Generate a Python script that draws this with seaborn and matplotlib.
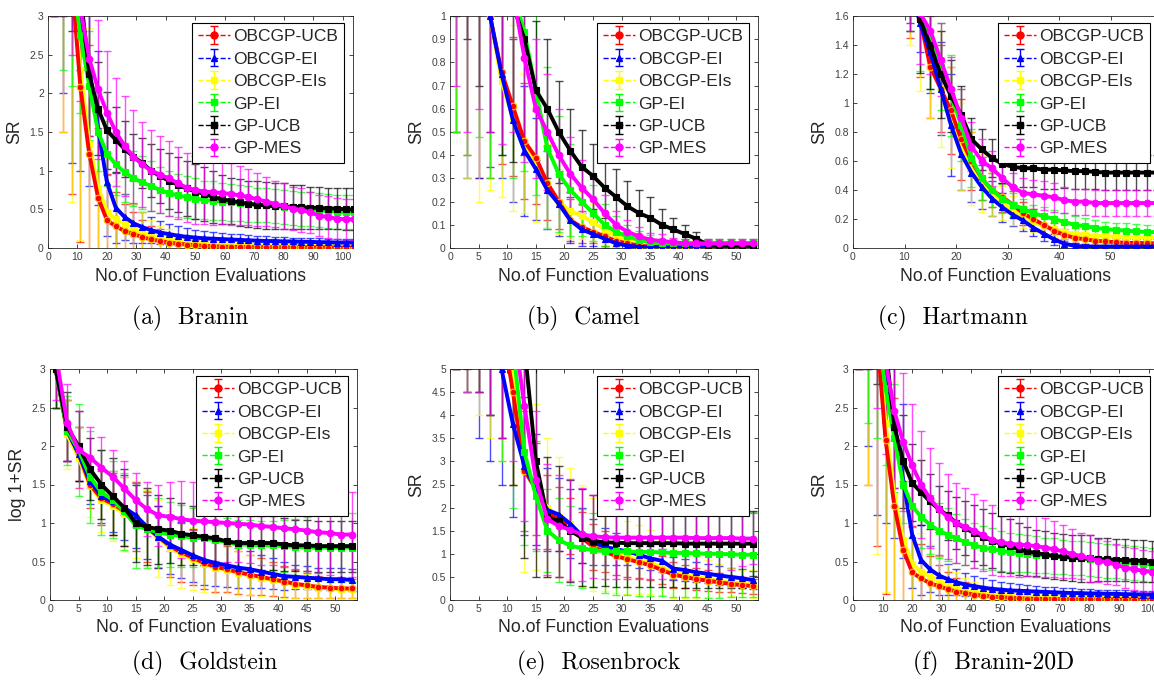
import numpy as np
import pandas as pd
import matplotlib
matplotlib.use("Agg")
import matplotlib.pyplot as plt
import seaborn as sns
from matplotlib.ticker import FuncFormatter, MultipleLocator

# ---------------------------------------------------------------- methods
methods = ["OBCGP-UCB", "OBCGP-EI", "OBCGP-EIs", "GP-EI", "GP-UCB", "GP-MES"]
method_colors = ["#ff0000", "#0000ff", "#ffff00", "#00ff00", "#000000", "#ff00ff"]
method_markers = ["o", "^", "s", "s", "s", "o"]

# ---------------------------------------------------------------- Branin
branin_evals = list(range(2, 105, 3))
branin_obcgp_ucb = [6.0, 4.5, 3.5, 2.08, 1.22, 0.65, 0.36, 0.28, 0.22, 0.18, 0.14, 0.11, 0.09, 0.07, 0.055, 0.045, 0.035, 0.028, 0.022, 0.018, 0.015, 0.013, 0.011, 0.01, 0.009, 0.008, 0.008, 0.007, 0.007, 0.006, 0.006, 0.006, 0.005, 0.005, 0.005]
branin_obcgp_ucb_sd = [3.0, 3.0, 2.8, 2.0, 1.4, 0.9, 0.6, 0.45, 0.35, 0.28, 0.22, 0.18, 0.15, 0.12, 0.1, 0.08, 0.07, 0.06, 0.05, 0.045, 0.04, 0.035, 0.03, 0.03, 0.025, 0.025, 0.02, 0.02, 0.02, 0.02, 0.02, 0.015, 0.015, 0.015, 0.015]
branin_obcgp_ei = [6.0, 4.5, 3.6, 3.0, 2.3, 1.55, 0.85, 0.52, 0.4, 0.32, 0.27, 0.23, 0.2, 0.18, 0.16, 0.145, 0.135, 0.125, 0.12, 0.115, 0.11, 0.105, 0.1, 0.095, 0.09, 0.09, 0.085, 0.085, 0.08, 0.08, 0.075, 0.075, 0.07, 0.07, 0.07]
branin_obcgp_ei_sd = [3.0, 2.5, 2.5, 2.0, 1.5, 1.0, 0.7, 0.45, 0.3, 0.25, 0.2, 0.17, 0.15, 0.13, 0.12, 0.11, 0.1, 0.09, 0.085, 0.08, 0.075, 0.07, 0.065, 0.06, 0.06, 0.055, 0.055, 0.05, 0.05, 0.05, 0.05, 0.045, 0.045, 0.045, 0.045]
branin_obcgp_eis = [6.0, 4.5, 3.6, 2.3, 1.35, 0.78, 0.47, 0.37, 0.31, 0.25, 0.2, 0.16, 0.13, 0.11, 0.09, 0.075, 0.065, 0.058, 0.052, 0.048, 0.045, 0.042, 0.04, 0.038, 0.036, 0.034, 0.033, 0.032, 0.031, 0.03, 0.03, 0.029, 0.028, 0.028, 0.028]
branin_obcgp_eis_sd = [3.0, 3.0, 3.0, 2.2, 1.5, 1.0, 0.7, 0.5, 0.4, 0.32, 0.26, 0.2, 0.16, 0.13, 0.1, 0.08, 0.07, 0.06, 0.05, 0.045, 0.04, 0.04, 0.035, 0.035, 0.03, 0.03, 0.03, 0.03, 0.03, 0.03, 0.03, 0.03, 0.03, 0.03, 0.03]
branin_gp_ei = [6.0, 4.5, 3.6, 2.75, 2.1, 1.5, 1.22, 1.08, 0.98, 0.9, 0.85, 0.8, 0.75, 0.71, 0.68, 0.66, 0.64, 0.62, 0.61, 0.6, 0.59, 0.58, 0.57, 0.56, 0.55, 0.54, 0.53, 0.52, 0.51, 0.5, 0.49, 0.48, 0.47, 0.46, 0.46]
branin_gp_ei_sd = [3.0, 2.2, 1.5, 1.0, 0.7, 0.5, 0.42, 0.4, 0.38, 0.36, 0.34, 0.32, 0.3, 0.29, 0.28, 0.27, 0.26, 0.25, 0.25, 0.24, 0.24, 0.23, 0.23, 0.22, 0.22, 0.22, 0.22, 0.22, 0.22, 0.22, 0.22, 0.22, 0.22, 0.22, 0.22]
branin_gp_ucb = [6.0, 5.0, 4.0, 3.3, 2.25, 1.8, 1.52, 1.4, 1.28, 1.18, 1.1, 1.0, 0.93, 0.87, 0.82, 0.77, 0.73, 0.7, 0.66, 0.63, 0.61, 0.59, 0.57, 0.56, 0.55, 0.54, 0.54, 0.53, 0.53, 0.52, 0.52, 0.51, 0.51, 0.5, 0.5]
branin_gp_ucb_sd = [3.0, 2.0, 1.2, 1.0, 0.8, 0.6, 0.5, 0.42, 0.36, 0.3, 0.32, 0.34, 0.35, 0.36, 0.36, 0.36, 0.36, 0.35, 0.34, 0.32, 0.3, 0.3, 0.3, 0.3, 0.3, 0.3, 0.3, 0.28, 0.28, 0.27, 0.27, 0.27, 0.27, 0.27, 0.27]
branin_gp_mes = [6.0, 5.0, 4.0, 3.1, 2.45, 2.05, 1.75, 1.5, 1.32, 1.18, 1.08, 1.0, 0.95, 0.9, 0.84, 0.78, 0.75, 0.73, 0.72, 0.71, 0.7, 0.68, 0.66, 0.63, 0.6, 0.57, 0.54, 0.51, 0.49, 0.46, 0.42, 0.4, 0.38, 0.37, 0.37]
branin_gp_mes_sd = [3.0, 2.0, 1.5, 1.2, 1.0, 0.9, 0.8, 0.7, 0.65, 0.6, 0.55, 0.52, 0.5, 0.48, 0.46, 0.45, 0.44, 0.42, 0.42, 0.4, 0.4, 0.38, 0.36, 0.34, 0.32, 0.3, 0.3, 0.28, 0.28, 0.27, 0.27, 0.27, 0.27, 0.27, 0.27]

# ---------------------------------------------------------------- Camel
camel_evals = list(range(1, 54, 2))
camel_obcgp_ucb = [2.0, 1.6, 1.2, 1.0, 0.76, 0.61, 0.46, 0.39, 0.28, 0.2, 0.12, 0.09, 0.07, 0.05, 0.03, 0.02, 0.01, 0.006, 0.004, 0.003, 0.003, 0.003, 0.003, 0.003, 0.003, 0.003, 0.003]
camel_obcgp_ucb_sd = [1.5, 1.2, 0.9, 0.7, 0.4, 0.3, 0.25, 0.2, 0.16, 0.12, 0.09, 0.07, 0.05, 0.04, 0.03, 0.02, 0.015, 0.01, 0.01, 0.01, 0.01, 0.01, 0.01, 0.01, 0.01, 0.01, 0.01]
camel_obcgp_ei = [2.0, 1.5, 1.2, 1.0, 0.75, 0.55, 0.42, 0.34, 0.25, 0.19, 0.12, 0.08, 0.06, 0.04, 0.02, 0.01, 0.005, 0.003, 0.003, 0.003, 0.003, 0.003, 0.003, 0.003, 0.003, 0.003, 0.003]
camel_obcgp_ei_sd = [1.5, 1.2, 0.9, 0.65, 0.45, 0.35, 0.28, 0.22, 0.17, 0.14, 0.1, 0.07, 0.05, 0.04, 0.03, 0.02, 0.01, 0.01, 0.01, 0.01, 0.01, 0.01, 0.01, 0.01, 0.01, 0.01, 0.01]
camel_obcgp_eis = [2.0, 1.6, 1.2, 1.0, 0.72, 0.56, 0.45, 0.36, 0.27, 0.2, 0.16, 0.14, 0.11, 0.08, 0.05, 0.035, 0.03, 0.025, 0.02, 0.018, 0.015, 0.013, 0.012, 0.011, 0.01, 0.01, 0.01]
camel_obcgp_eis_sd = [1.5, 1.3, 1.0, 0.75, 0.5, 0.4, 0.3, 0.25, 0.18, 0.14, 0.12, 0.1, 0.08, 0.06, 0.04, 0.03, 0.025, 0.02, 0.02, 0.02, 0.02, 0.02, 0.02, 0.02, 0.02, 0.02, 0.02]
camel_gp_ei = [2.0, 1.8, 1.2, 1.2, 1.25, 1.1, 0.93, 0.68, 0.43, 0.32, 0.25, 0.2, 0.15, 0.1, 0.07, 0.05, 0.035, 0.025, 0.02, 0.02, 0.02, 0.02, 0.02, 0.02, 0.02, 0.02, 0.02]
camel_gp_ei_sd = [1.5, 1.4, 0.72, 0.9, 0.85, 0.8, 0.6, 0.45, 0.35, 0.25, 0.2, 0.15, 0.12, 0.09, 0.07, 0.05, 0.04, 0.03, 0.02, 0.02, 0.02, 0.02, 0.02, 0.02, 0.02, 0.02, 0.02]
camel_gp_ucb = [2.5, 2.2, 1.8, 1.5, 1.3, 1.05, 0.9, 0.68, 0.6, 0.5, 0.42, 0.35, 0.31, 0.26, 0.22, 0.18, 0.15, 0.13, 0.1, 0.08, 0.06, 0.04, 0.015, 0.012, 0.012, 0.012, 0.012]
camel_gp_ucb_sd = [1.5, 1.3, 1.1, 1.0, 0.9, 0.68, 0.5, 0.3, 0.3, 0.22, 0.18, 0.16, 0.14, 0.13, 0.12, 0.11, 0.1, 0.09, 0.07, 0.05, 0.04, 0.03, 0.02, 0.02, 0.02, 0.02, 0.02]
camel_gp_mes = [2.5, 2.0, 1.6, 1.4, 1.25, 1.1, 0.82, 0.6, 0.5, 0.4, 0.32, 0.26, 0.21, 0.15, 0.1, 0.07, 0.05, 0.035, 0.03, 0.025, 0.02, 0.02, 0.02, 0.02, 0.02, 0.02, 0.02]
camel_gp_mes_sd = [1.8, 1.5, 1.0, 0.9, 0.8, 0.6, 0.45, 0.3, 0.25, 0.2, 0.16, 0.12, 0.1, 0.08, 0.06, 0.05, 0.04, 0.03, 0.03, 0.02, 0.02, 0.02, 0.02, 0.02, 0.02, 0.02, 0.02]

# ---------------------------------------------------------------- Hartmann
hart_evals = list(range(1, 60, 2))
hart_obcgp_ucb = [3.0, 2.8, 2.6, 2.4, 2.2, 1.9, 1.58, 1.25, 1.1, 0.95, 0.75, 0.6, 0.48, 0.4, 0.35, 0.3, 0.24, 0.2, 0.16, 0.12, 0.09, 0.07, 0.06, 0.05, 0.045, 0.04, 0.035, 0.035, 0.033, 0.032]
hart_obcgp_ucb_sd = [0.5, 0.5, 0.5, 0.5, 0.5, 0.45, 0.4, 0.35, 0.3, 0.3, 0.28, 0.2, 0.15, 0.12, 0.1, 0.09, 0.08, 0.07, 0.06, 0.05, 0.04, 0.035, 0.03, 0.03, 0.03, 0.03, 0.03, 0.03, 0.03, 0.03]
hart_obcgp_ei = [3.0, 2.8, 2.6, 2.4, 2.2, 1.85, 1.55, 1.35, 1.1, 0.85, 0.65, 0.52, 0.42, 0.34, 0.28, 0.23, 0.19, 0.14, 0.1, 0.06, 0.03, 0.015, 0.01, 0.01, 0.01, 0.01, 0.01, 0.01, 0.01, 0.01]
hart_obcgp_ei_sd = [0.5, 0.5, 0.5, 0.5, 0.45, 0.3, 0.2, 0.28, 0.32, 0.35, 0.25, 0.2, 0.15, 0.12, 0.1, 0.08, 0.07, 0.06, 0.05, 0.04, 0.03, 0.02, 0.015, 0.01, 0.01, 0.01, 0.01, 0.01, 0.01, 0.01]
hart_obcgp_eis = [3.0, 2.8, 2.6, 2.4, 2.2, 1.9, 1.58, 1.3, 1.1, 0.9, 0.7, 0.55, 0.45, 0.37, 0.31, 0.26, 0.22, 0.18, 0.15, 0.13, 0.11, 0.1, 0.09, 0.085, 0.08, 0.08, 0.078, 0.076, 0.075, 0.075]
hart_obcgp_eis_sd = [0.5, 0.5, 0.5, 0.5, 0.5, 0.5, 0.5, 0.4, 0.4, 0.35, 0.3, 0.25, 0.2, 0.15, 0.12, 0.1, 0.08, 0.07, 0.06, 0.05, 0.05, 0.04, 0.04, 0.04, 0.04, 0.04, 0.04, 0.04, 0.04, 0.04]
hart_gp_ei = [3.0, 2.8, 2.6, 2.4, 2.2, 1.95, 1.62, 1.45, 1.25, 1.05, 0.85, 0.62, 0.48, 0.4, 0.34, 0.3, 0.27, 0.24, 0.22, 0.2, 0.18, 0.16, 0.15, 0.14, 0.13, 0.125, 0.12, 0.115, 0.11, 0.11]
hart_gp_ei_sd = [0.5, 0.5, 0.5, 0.5, 0.5, 0.45, 0.4, 0.35, 0.3, 0.28, 0.25, 0.2, 0.15, 0.12, 0.1, 0.08, 0.07, 0.06, 0.06, 0.06, 0.06, 0.06, 0.06, 0.055, 0.05, 0.05, 0.05, 0.05, 0.05, 0.05]
hart_gp_ucb = [3.0, 2.8, 2.6, 2.4, 2.2, 1.9, 1.58, 1.4, 1.2, 1.05, 0.92, 0.75, 0.68, 0.62, 0.58, 0.56, 0.55, 0.55, 0.54, 0.54, 0.535, 0.53, 0.53, 0.525, 0.52, 0.52, 0.52, 0.52, 0.52, 0.52]
hart_gp_ucb_sd = [0.5, 0.5, 0.5, 0.5, 0.5, 0.4, 0.37, 0.3, 0.3, 0.25, 0.2, 0.15, 0.14, 0.13, 0.13, 0.13, 0.13, 0.13, 0.13, 0.13, 0.12, 0.12, 0.12, 0.12, 0.12, 0.12, 0.12, 0.12, 0.12, 0.12]
hart_gp_mes = [3.0, 2.8, 2.6, 2.4, 2.2, 1.95, 1.62, 1.5, 1.3, 1.1, 0.9, 0.7, 0.6, 0.55, 0.48, 0.42, 0.38, 0.37, 0.36, 0.35, 0.33, 0.32, 0.32, 0.31, 0.31, 0.31, 0.31, 0.31, 0.31, 0.31]
hart_gp_mes_sd = [0.5, 0.5, 0.5, 0.5, 0.5, 0.45, 0.35, 0.3, 0.25, 0.22, 0.2, 0.17, 0.15, 0.12, 0.1, 0.1, 0.1, 0.1, 0.1, 0.1, 0.09, 0.09, 0.09, 0.09, 0.09, 0.09, 0.09, 0.09, 0.09, 0.09]

# ---------------------------------------------------------------- Goldstein (log 1+SR)
gold_evals = list(range(1, 54, 2))
gold_obcgp_ucb = [3.0, 2.2, 1.9, 1.5, 1.32, 1.25, 1.15, 1.08, 0.95, 0.82, 0.7, 0.62, 0.55, 0.48, 0.43, 0.4, 0.36, 0.33, 0.3, 0.27, 0.24, 0.21, 0.19, 0.17, 0.16, 0.15, 0.15]
gold_obcgp_ucb_sd = [0.5, 0.4, 0.35, 0.3, 0.35, 0.4, 0.45, 0.45, 0.45, 0.4, 0.4, 0.38, 0.36, 0.34, 0.32, 0.3, 0.28, 0.26, 0.24, 0.22, 0.2, 0.18, 0.16, 0.14, 0.13, 0.12, 0.12]
gold_obcgp_ei = [3.0, 2.2, 1.9, 1.55, 1.35, 1.28, 1.2, 1.1, 0.95, 0.82, 0.72, 0.65, 0.58, 0.52, 0.48, 0.45, 0.42, 0.4, 0.37, 0.34, 0.31, 0.3, 0.29, 0.28, 0.27, 0.27, 0.26]
gold_obcgp_ei_sd = [0.5, 0.4, 0.35, 0.3, 0.35, 0.4, 0.42, 0.42, 0.42, 0.4, 0.38, 0.36, 0.34, 0.32, 0.3, 0.28, 0.26, 0.24, 0.22, 0.2, 0.18, 0.16, 0.15, 0.14, 0.14, 0.14, 0.14]
gold_obcgp_eis = [3.0, 2.15, 1.85, 1.48, 1.3, 1.22, 1.12, 1.05, 0.93, 0.8, 0.68, 0.6, 0.53, 0.47, 0.42, 0.39, 0.35, 0.32, 0.29, 0.26, 0.23, 0.2, 0.18, 0.16, 0.15, 0.14, 0.14]
gold_obcgp_eis_sd = [0.5, 0.45, 0.4, 0.4, 0.42, 0.45, 0.48, 0.5, 0.5, 0.5, 0.48, 0.45, 0.4, 0.36, 0.33, 0.3, 0.28, 0.26, 0.24, 0.22, 0.2, 0.18, 0.16, 0.14, 0.13, 0.12, 0.12]
gold_gp_ei = [3.0, 2.2, 1.95, 1.6, 1.4, 1.3, 1.15, 0.97, 0.92, 0.88, 0.85, 0.83, 0.81, 0.8, 0.78, 0.75, 0.72, 0.72, 0.71, 0.71, 0.7, 0.69, 0.68, 0.68, 0.68, 0.68, 0.68]
gold_gp_ei_sd = [0.5, 0.45, 0.6, 0.6, 0.55, 0.5, 0.5, 0.55, 0.5, 0.45, 0.42, 0.4, 0.38, 0.36, 0.34, 0.32, 0.32, 0.32, 0.32, 0.32, 0.34, 0.36, 0.4, 0.42, 0.44, 0.45, 0.45]
gold_gp_ucb = [3.0, 2.25, 2.0, 1.7, 1.5, 1.35, 1.2, 1.0, 0.95, 0.92, 0.9, 0.86, 0.84, 0.82, 0.8, 0.76, 0.74, 0.74, 0.74, 0.74, 0.72, 0.71, 0.71, 0.7, 0.7, 0.7, 0.7]
gold_gp_ucb_sd = [0.5, 0.45, 0.45, 0.4, 0.45, 0.5, 0.5, 0.5, 0.5, 0.45, 0.42, 0.4, 0.38, 0.36, 0.36, 0.36, 0.35, 0.35, 0.35, 0.35, 0.34, 0.33, 0.33, 0.33, 0.33, 0.33, 0.33]
gold_gp_mes = [3.2, 2.3, 1.95, 1.85, 1.72, 1.6, 1.45, 1.3, 1.18, 1.1, 1.08, 1.05, 1.03, 1.02, 1.01, 1.0, 0.99, 0.98, 0.96, 0.95, 0.93, 0.92, 0.9, 0.88, 0.87, 0.85, 0.85]
gold_gp_mes_sd = [0.6, 0.5, 0.5, 0.4, 0.4, 0.35, 0.35, 0.35, 0.35, 0.4, 0.45, 0.5, 0.5, 0.5, 0.5, 0.5, 0.5, 0.5, 0.5, 0.5, 0.5, 0.52, 0.52, 0.53, 0.54, 0.55, 0.55]

# ---------------------------------------------------------------- Rosenbrock
rosen_evals = list(range(1, 54, 2))
rosen_obcgp_ucb = [9.0, 8.5, 8.0, 7.0, 6.0, 4.5, 2.8, 2.4, 1.9, 1.75, 1.6, 1.35, 1.15, 1.05, 0.95, 0.88, 0.82, 0.75, 0.65, 0.55, 0.5, 0.45, 0.42, 0.38, 0.35, 0.32, 0.3]
rosen_obcgp_ucb_sd = [4.0, 4.0, 3.5, 3.0, 2.5, 2.0, 1.3, 1.0, 0.8, 0.7, 0.6, 0.55, 0.5, 0.45, 0.4, 0.38, 0.35, 0.32, 0.3, 0.28, 0.25, 0.24, 0.22, 0.2, 0.18, 0.17, 0.16]
rosen_obcgp_ei = [9.0, 8.0, 7.0, 6.0, 5.0, 3.8, 2.9, 2.4, 1.95, 1.85, 1.65, 1.4, 1.25, 1.15, 1.1, 1.05, 0.98, 0.9, 0.85, 0.68, 0.65, 0.6, 0.57, 0.53, 0.5, 0.47, 0.43]
rosen_obcgp_ei_sd = [4.0, 3.5, 3.5, 3.0, 2.5, 2.0, 1.5, 1.2, 0.9, 0.8, 0.75, 0.6, 0.5, 0.4, 0.35, 0.3, 0.28, 0.26, 0.25, 0.24, 0.23, 0.22, 0.21, 0.2, 0.2, 0.2, 0.2]
rosen_obcgp_eis = [9.0, 8.5, 8.0, 7.0, 6.0, 5.0, 2.8, 2.45, 2.0, 1.8, 1.65, 1.4, 1.2, 1.1, 1.0, 0.92, 0.88, 0.82, 0.7, 0.6, 0.55, 0.5, 0.46, 0.42, 0.39, 0.36, 0.34]
rosen_obcgp_eis_sd = [4.0, 4.0, 4.0, 3.5, 3.0, 2.5, 2.2, 1.8, 1.5, 1.3, 1.2, 1.1, 1.0, 0.9, 0.85, 0.8, 0.75, 0.7, 0.6, 0.55, 0.5, 0.45, 0.4, 0.35, 0.3, 0.3, 0.3]
rosen_gp_ei = [9.0, 8.5, 8.0, 7.0, 6.0, 5.5, 3.2, 2.25, 1.5, 1.3, 1.18, 1.12, 1.08, 1.06, 1.05, 1.05, 1.04, 1.04, 1.03, 1.02, 1.02, 1.01, 1.0, 1.0, 0.99, 0.98, 0.98]
rosen_gp_ei_sd = [4.0, 4.0, 3.5, 3.0, 3.0, 3.5, 2.0, 1.2, 0.9, 0.9, 0.85, 0.85, 0.8, 0.9, 0.95, 0.95, 0.95, 0.95, 0.95, 0.95, 0.95, 0.95, 0.95, 0.95, 0.93, 0.92, 0.92]
rosen_gp_ucb = [9.0, 9.0, 8.5, 8.0, 7.5, 7.0, 5.5, 3.0, 1.8, 1.7, 1.5, 1.35, 1.28, 1.25, 1.24, 1.23, 1.23, 1.23, 1.23, 1.23, 1.22, 1.22, 1.22, 1.22, 1.22, 1.22, 1.22]
rosen_gp_ucb_sd = [4.0, 4.0, 4.0, 4.0, 4.0, 4.5, 4.6, 2.5, 1.3, 1.2, 1.1, 1.05, 1.0, 0.95, 0.95, 0.95, 0.95, 0.95, 0.95, 0.95, 0.95, 0.95, 0.95, 0.95, 0.95, 0.95, 0.7]
rosen_gp_mes = [9.0, 8.5, 8.0, 7.0, 6.5, 6.0, 4.2, 2.6, 1.75, 1.6, 1.52, 1.42, 1.38, 1.36, 1.35, 1.35, 1.35, 1.35, 1.35, 1.35, 1.35, 1.34, 1.34, 1.34, 1.34, 1.33, 1.33]
rosen_gp_mes_sd = [4.0, 4.0, 3.5, 3.0, 3.0, 3.0, 2.5, 1.5, 1.2, 1.1, 1.1, 1.0, 0.9, 0.9, 0.9, 0.9, 0.9, 0.9, 0.9, 0.9, 0.9, 0.9, 0.8, 0.75, 0.7, 0.6, 0.55]

# ---------------------------------------------------------------- Branin-20D
b20_evals = branin_evals
b20_obcgp_ucb, b20_obcgp_ucb_sd = branin_obcgp_ucb, branin_obcgp_ucb_sd
b20_obcgp_ei, b20_obcgp_ei_sd = branin_obcgp_ei, branin_obcgp_ei_sd
b20_obcgp_eis, b20_obcgp_eis_sd = branin_obcgp_eis, branin_obcgp_eis_sd
b20_gp_ei, b20_gp_ei_sd = branin_gp_ei, branin_gp_ei_sd
b20_gp_ucb, b20_gp_ucb_sd = branin_gp_ucb, branin_gp_ucb_sd
b20_gp_mes, b20_gp_mes_sd = branin_gp_mes, branin_gp_mes_sd


def panel_table(evals, series, errs):
    frames = []
    for name, m, s in zip(methods, series, errs):
        frames.append(pd.DataFrame({"evals": evals, "value": m, "sd": s, "method": name}))
    return pd.concat(frames, ignore_index=True)


panels = [
    dict(df=panel_table(branin_evals,
                        [branin_obcgp_ucb, branin_obcgp_ei, branin_obcgp_eis, branin_gp_ei, branin_gp_ucb, branin_gp_mes],
                        [branin_obcgp_ucb_sd, branin_obcgp_ei_sd, branin_obcgp_eis_sd, branin_gp_ei_sd, branin_gp_ucb_sd, branin_gp_mes_sd]),
         rect=(48, 16, 305, 232), xlim=103.5, ylim=3, xstep=10, ystep=0.5,
         ylabel="SR", xlabel="No.of Function Evaluations", caption="(a)  Branin", cap_x=132, cap_y=318),
    dict(df=panel_table(camel_evals,
                        [camel_obcgp_ucb, camel_obcgp_ei, camel_obcgp_eis, camel_gp_ei, camel_gp_ucb, camel_gp_mes],
                        [camel_obcgp_ucb_sd, camel_obcgp_ei_sd, camel_obcgp_eis_sd, camel_gp_ei_sd, camel_gp_ucb_sd, camel_gp_mes_sd]),
         rect=(450, 16, 308, 232), xlim=53.8, ylim=1, xstep=5, ystep=0.1,
         ylabel="SR", xlabel="No.of Function Evaluations", caption="(b)  Camel", cap_x=527, cap_y=318),
    dict(df=panel_table(hart_evals,
                        [hart_obcgp_ucb, hart_obcgp_ei, hart_obcgp_eis, hart_gp_ei, hart_gp_ucb, hart_gp_mes],
                        [hart_obcgp_ucb_sd, hart_obcgp_ei_sd, hart_obcgp_eis_sd, hart_gp_ei_sd, hart_gp_ucb_sd, hart_gp_mes_sd]),
         rect=(853, 16, 306, 232), xlim=59.4, ylim=1.6, xstep=10, ystep=0.2,
         ylabel="SR", xlabel="No.of Function Evaluations", caption="(c)  Hartmann", cap_x=878, cap_y=318),
    dict(df=panel_table(gold_evals,
                        [gold_obcgp_ucb, gold_obcgp_ei, gold_obcgp_eis, gold_gp_ei, gold_gp_ucb, gold_gp_mes],
                        [gold_obcgp_ucb_sd, gold_obcgp_ei_sd, gold_obcgp_eis_sd, gold_gp_ei_sd, gold_gp_ucb_sd, gold_gp_mes_sd]),
         rect=(50, 369, 307, 231), xlim=53.8, ylim=3, xstep=5, ystep=0.5,
         ylabel="log 1+SR", xlabel="No. of Function Evaluations", caption="(d)  Goldstein", cap_x=132, cap_y=663),
    dict(df=panel_table(rosen_evals,
                        [rosen_obcgp_ucb, rosen_obcgp_ei, rosen_obcgp_eis, rosen_gp_ei, rosen_gp_ucb, rosen_gp_mes],
                        [rosen_obcgp_ucb_sd, rosen_obcgp_ei_sd, rosen_obcgp_eis_sd, rosen_gp_ei_sd, rosen_gp_ucb_sd, rosen_gp_mes_sd]),
         rect=(450, 369, 308, 231), xlim=53.8, ylim=5, xstep=5, ystep=0.5,
         ylabel="SR", xlabel="No.of Function Evaluations", caption="(e)  Rosenbrock", cap_x=517, cap_y=663),
    dict(df=panel_table(b20_evals,
                        [b20_obcgp_ucb, b20_obcgp_ei, b20_obcgp_eis, b20_gp_ei, b20_gp_ucb, b20_gp_mes],
                        [b20_obcgp_ucb_sd, b20_obcgp_ei_sd, b20_obcgp_eis_sd, b20_gp_ei_sd, b20_gp_ucb_sd, b20_gp_mes_sd]),
         rect=(853, 369, 306, 231), xlim=103.5, ylim=3, xstep=10, ystep=0.5,
         ylabel="SR", xlabel="No.of Function Evaluations", caption="(f)  Branin-20D", cap_x=913, cap_y=663),
]

# ---------------------------------------------------------------- style
sns.set_theme(style="ticks")
plt.rcParams["font.family"] = ["Liberation Sans", "DejaVu Sans"]

W, H = 1154, 681
fig = plt.figure(figsize=(W / 100, H / 100), dpi=100)
fig.patch.set_facecolor("white")

draw_order = ["OBCGP-EIs", "OBCGP-UCB", "OBCGP-EI", "GP-EI", "GP-UCB", "GP-MES"]
fmt = FuncFormatter(lambda v, _: f"{v:g}")

for p in panels:
    left, top, w, h = p["rect"]
    ax = fig.add_axes([left / W, (H - top - h) / H, w / W, h / H])
    df = p["df"]

    # error bars first, semi transparent so the overlaps blend
    for name in methods:
        c = method_colors[methods.index(name)]
        sub = df[df["method"] == name]
        ax.errorbar(sub["evals"], sub["value"], yerr=sub["sd"], fmt="none",
                    ecolor=c, elinewidth=1.0, capsize=3, capthick=1.0,
                    alpha=0.7, zorder=1)

    # mean curves
    for k, name in enumerate(draw_order):
        i = methods.index(name)
        c = method_colors[i]
        sub = df[df["method"] == name]
        mec = "#ffc800" if name == "OBCGP-UCB" else c
        sns.lineplot(data=sub, x="evals", y="value", ax=ax, color=c,
                     estimator=None, errorbar=None, sort=True,
                     linewidth=2.8, marker=method_markers[i], markersize=4.8,
                     markerfacecolor=c, markeredgecolor=mec, markeredgewidth=0.8,
                     zorder=2 + k, legend=False)

    ax.set_xlim(0, p["xlim"])
    ax.set_ylim(0, p["ylim"])
    ax.xaxis.set_major_locator(MultipleLocator(p["xstep"]))
    ax.yaxis.set_major_locator(MultipleLocator(p["ystep"]))
    ax.xaxis.set_major_formatter(fmt)
    ax.yaxis.set_major_formatter(fmt)
    ax.tick_params(direction="in", length=3, width=0.6, top=True, right=True,
                   labelsize=7.5, colors="#262626", labelcolor="#404040", pad=3)
    for s in ax.spines.values():
        s.set_visible(True)
        s.set_linewidth(0.6)
        s.set_color("#262626")

    ax.set_xlabel(p["xlabel"], fontsize=12.7, color="#262626")
    ax.set_ylabel(p["ylabel"], fontsize=12.7, color="#262626")
    ax.xaxis.set_label_coords(0.5, -28 / h)
    ax.xaxis.label.set_va("center")
    ax.yaxis.set_label_coords(-33 / w, 0.5)
    ax.yaxis.label.set_va("center")

    # legend with error-bar glyphs
    handles = []
    for i, name in enumerate(methods):
        hcont = ax.errorbar([np.nan], [np.nan], yerr=[np.nan], fmt="--",
                            color=method_colors[i], marker=method_markers[i],
                            markersize=5, linewidth=1.0, elinewidth=1.0,
                            capsize=3, label=name)
        handles.append(hcont)
    leg = ax.legend(handles=handles, labels=methods, loc="upper right",
                    bbox_to_anchor=(1 - 9 / w, 1 - 7 / h), borderaxespad=0,
                    fontsize=12.5, frameon=True, fancybox=False, framealpha=1,
                    edgecolor="#000000", labelspacing=0.42, borderpad=0.35,
                    handlelength=1.8, handletextpad=0.2, numpoints=1)
    leg.get_frame().set_linewidth(0.8)
    leg.set_zorder(20)

    fig.text(p["cap_x"] / W, 1 - p["cap_y"] / H, p["caption"], fontsize=17,
             family="cmr10", ha="left", va="center", color="black")

fig.savefig("out.png", dpi=100)
